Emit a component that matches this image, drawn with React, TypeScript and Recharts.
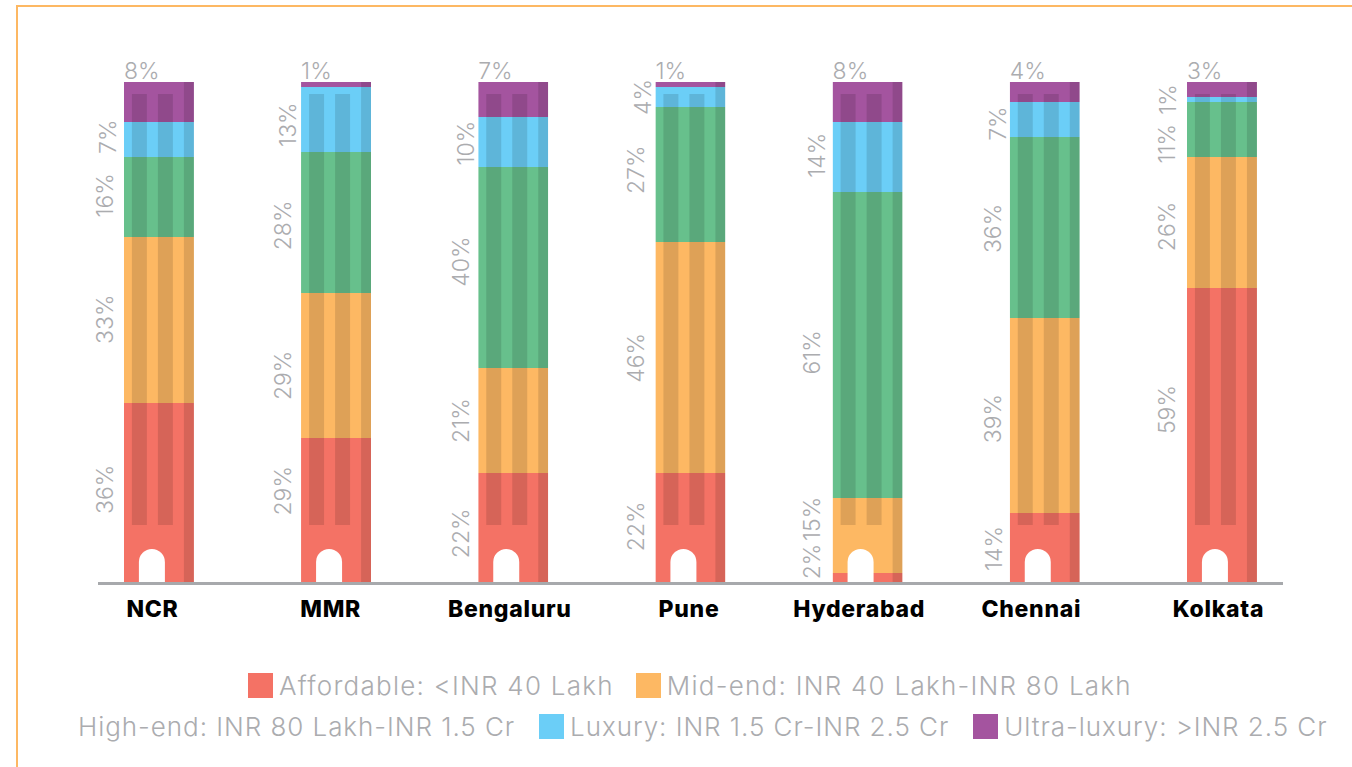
import { BarChart, Bar, XAxis, YAxis, LabelList, Legend } from "recharts";

const CITIES = ["NCR", "MMR", "Bengaluru", "Pune", "Hyderabad", "Chennai", "Kolkata"];
const AFFORDABLE = [36, 29, 22, 22, 2, 14, 59];
const MID_END = [33, 29, 21, 46, 15, 39, 26];
const HIGH_END = [16, 28, 40, 27, 61, 36, 11];
const LUXURY = [7, 13, 10, 4, 14, 7, 1];
const ULTRA_LUXURY = [8, 1, 7, 1, 8, 4, 3];

const data = CITIES.map((city, i) => ({
  city,
  affordable: AFFORDABLE[i],
  midEnd: MID_END[i],
  highEnd: HIGH_END[i],
  luxury: LUXURY[i],
  ultraLuxury: ULTRA_LUXURY[i],
}));

const GREY = "#abacaf";
const WIDTH = 1352;
const HEIGHT = 767;
const PLOT_TOP = 82;
const PLOT_BOTTOM = 583.5;
const TOWER_FOOT = 582;

// hand placement of the rotated percentages, the labels dodge each other
const LABEL_DX: Record<string, number[]> = {
  affordable: [0, 1, 2, 0, -2, 3, -1],
  midEnd: [0, 1, 2, 0, -2, 2, -1],
  highEnd: [0, 1, 2, 0, -2, 2, -1],
  luxury: [3, 6, 7, 7, 3, 7, 0],
};
const LABEL_DY: Record<string, number[]> = {
  affordable: [-4, -20, 5, -2, -17, 0, -26],
  midEnd: [-1, 10, 0, 0, -17, 3, 4],
  highEnd: [-2, 3, -6, -5, 7, 1, 14],
  luxury: [-3, 5, 1, 0, -2, 4, 0],
};
const TICK_DX = [-6, -5, -3, -1, -8, -13, -3];

// each stacked segment paints its slice of the tower: two windows, a shaded side, a doorway
function TowerSegment(props: any) {
  const { x, y, width, height, fill, index, seriesKey } = props;
  const clipId = `tower-${seriesKey}-${index}`;
  const top = Math.round(y);
  const bottom = Math.min(Math.round(y + height), TOWER_FOOT);
  const doorX = x + 15;
  const doorW = 26;
  const doorTop = TOWER_FOOT - 33;
  return (
    <g>
      <clipPath id={clipId}>
        <rect x={x} y={top} width={width} height={bottom - top} />
      </clipPath>
      <g clipPath={`url(#${clipId})`}>
        <rect x={x} y={top} width={width} height={bottom - top} fill={fill} />
        <rect x={x + 8} y={PLOT_TOP + 12} width={15} height={431} fill="#000" fillOpacity={0.12} />
        <rect x={x + 34} y={PLOT_TOP + 12} width={15} height={431} fill="#000" fillOpacity={0.12} />
        <rect x={x + 60} y={PLOT_TOP} width={10} height={TOWER_FOOT - PLOT_TOP} fill="#000" fillOpacity={0.12} />
        <path
          d={`M${doorX} ${TOWER_FOOT}V${doorTop + 13}A${doorW / 2} 13 0 0 1 ${doorX + doorW} ${doorTop + 13}V${TOWER_FOOT}Z`}
          fill="#fff"
        />
      </g>
    </g>
  );
}

function SideLabel(props: any) {
  const { x, y, height, value, index, seriesKey } = props;
  const cx = x - 19 + LABEL_DX[seriesKey][index];
  const cy = y + height / 2 + LABEL_DY[seriesKey][index];
  return (
    <text
      x={cx}
      y={cy}
      transform={`rotate(-90 ${cx} ${cy})`}
      textAnchor="middle"
      dominantBaseline="central"
      fontSize={23}
      fontWeight={300}
      fontFamily="Inter"
      fill={GREY}
    >
      {value}%
    </text>
  );
}

function TopLabel(props: any) {
  const { x, y, value } = props;
  return (
    <text x={x} y={y - 3} fontSize={23} fontWeight={300} fontFamily="Inter" fill={GREY}>
      {value}%
    </text>
  );
}

function CityTick(props: any) {
  const { x, y, payload, index } = props;
  return (
    <text
      x={x + TICK_DX[index]}
      y={y}
      textAnchor="middle"
      fontSize={23}
      fontWeight={800}
      letterSpacing={0.7}
      fontFamily="Inter"
      fill="#000"
    >
      {payload.value}
    </text>
  );
}

const LEGEND_ROWS = [
  { names: ["Affordable: <INR 40 Lakh", "Mid-end: INR 40 Lakh-INR 80 Lakh"], left: 248, top: 673, gap: 22, spacing: 1.25 },
  { names: ["High-end: INR 80 Lakh-INR 1.5 Cr", "Luxury: INR 1.5 Cr-INR 2.5 Cr", "Ultra-luxury: >INR 2.5 Cr"], left: 78, top: 714, gap: 24, spacing: 0.95 },
];

function TowerLegend({ payload }: any) {
  const items = payload ?? [];
  return (
    <div style={{ position: "absolute", left: 0, top: 0, width: WIDTH, height: HEIGHT, pointerEvents: "none" }}>
      {LEGEND_ROWS.map((row) => (
        <div
          key={row.left}
          style={{
            position: "absolute",
            left: row.left,
            top: row.top,
            display: "flex",
            alignItems: "center",
            gap: row.gap,
            height: 25,
            whiteSpace: "nowrap",
          }}
        >
          {row.names.map((name) => {
            const item = items.find((p: any) => p.value === name);
            return (
              <span key={name} style={{ display: "flex", alignItems: "center", gap: 6 }}>
                {/* the high-end entry has no swatch of its own */}
                {!name.startsWith("High-end") && (
                  <span style={{ width: 25, height: 25, background: item?.color }} />
                )}
                <span style={{ fontFamily: "Inter", fontWeight: 300, fontSize: 26, letterSpacing: row.spacing, color: GREY }}>{name}</span>
              </span>
            );
          })}
        </div>
      ))}
    </div>
  );
}

export default function App() {
  return (
    <div style={{ position: "absolute", left: 0, top: 0, width: WIDTH, height: HEIGHT, background: "#fff", overflow: "hidden" }}>
      <div
        style={{
          position: "absolute",
          left: 16,
          top: 5,
          width: WIDTH,
          height: HEIGHT,
          borderLeft: "2px solid #fdb863",
          borderTop: "2px solid #fdb863",
          boxSizing: "border-box",
        }}
      />
      <BarChart
        width={WIDTH}
        height={HEIGHT}
        data={data}
        margin={{ top: PLOT_TOP, right: WIDTH - 1283, left: 98, bottom: 0 }}
        barSize={70}
        style={{ position: "absolute", left: 0, top: 0 }}
      >
        <XAxis
          dataKey="city"
          padding={{ left: -28.1, right: -27.1 }}
          axisLine={{ stroke: "#a7a9ac", strokeWidth: 3 }}
          tickLine={false}
          tick={<CityTick />}
          tickMargin={27}
          interval={0}
          height={HEIGHT - PLOT_BOTTOM}
        />
        <YAxis hide domain={[0, 100]} />
        <Legend content={<TowerLegend />} wrapperStyle={{ left: 0, top: 0, width: 0, height: 0 }} />
        <Bar dataKey="affordable" name="Affordable: <INR 40 Lakh" stackId="a" fill="#f47265" shape={<TowerSegment seriesKey="affordable" />} isAnimationActive={false}>
          <LabelList dataKey="affordable" content={<SideLabel seriesKey="affordable" />} />
        </Bar>
        <Bar dataKey="midEnd" name="Mid-end: INR 40 Lakh-INR 80 Lakh" stackId="a" fill="#fdb863" shape={<TowerSegment seriesKey="midEnd" />} isAnimationActive={false}>
          <LabelList dataKey="midEnd" content={<SideLabel seriesKey="midEnd" />} />
        </Bar>
        <Bar dataKey="highEnd" name="High-end: INR 80 Lakh-INR 1.5 Cr" stackId="a" fill="#67c08c" shape={<TowerSegment seriesKey="highEnd" />} isAnimationActive={false}>
          <LabelList dataKey="highEnd" content={<SideLabel seriesKey="highEnd" />} />
        </Bar>
        <Bar dataKey="luxury" name="Luxury: INR 1.5 Cr-INR 2.5 Cr" stackId="a" fill="#6bcef7" shape={<TowerSegment seriesKey="luxury" />} isAnimationActive={false}>
          <LabelList dataKey="luxury" content={<SideLabel seriesKey="luxury" />} />
        </Bar>
        <Bar dataKey="ultraLuxury" name="Ultra-luxury: >INR 2.5 Cr" stackId="a" fill="#a4549f" shape={<TowerSegment seriesKey="ultraLuxury" />} isAnimationActive={false}>
          <LabelList dataKey="ultraLuxury" content={<TopLabel />} />
        </Bar>
      </BarChart>
    </div>
  );
}
